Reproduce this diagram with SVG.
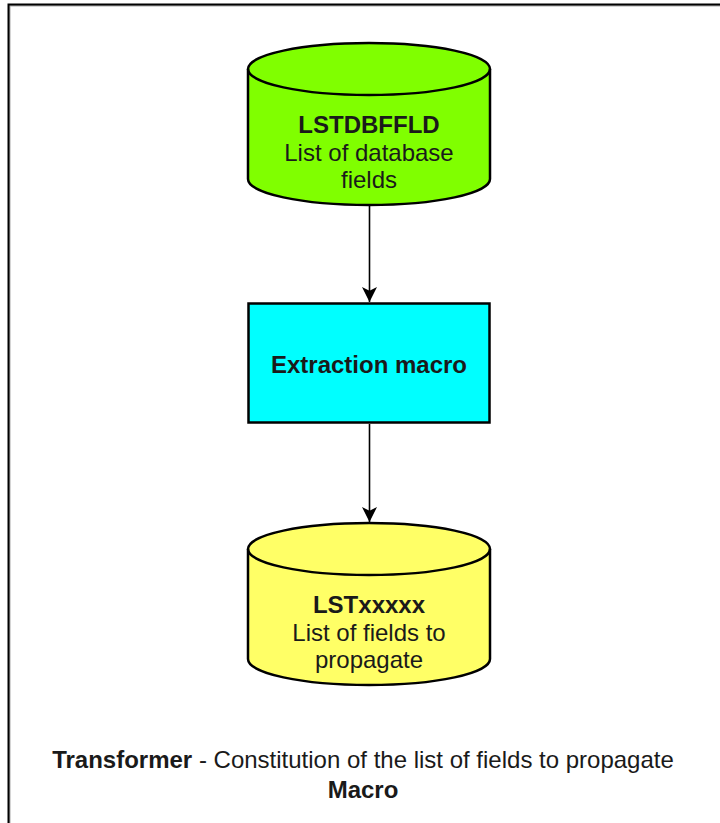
<svg xmlns="http://www.w3.org/2000/svg" width="720" height="823" viewBox="0 0 720 823">
  <defs>
    <marker id="arrow" viewBox="0 0 16 16" refX="16" refY="8" markerWidth="15" markerHeight="15" markerUnits="userSpaceOnUse" orient="auto">
      <path d="M0,0 L16,8 L0,16 L4,8 Z" fill="#000"/>
    </marker>
  </defs>
  <style>
    text { font-family: "Liberation Sans", Arial, sans-serif; font-size: 24px; fill: #1a1a1a; text-anchor: middle; }
    .b { font-weight: bold; }
    .shape { stroke: #000; stroke-width: 2.5; }
    .edge { stroke: #000; stroke-width: 1.6; fill: none; }
  </style>
  <rect width="720" height="823" fill="#fff"/>

  <!-- frame -->
  <path d="M9.5,823 V5.5 H720" fill="none" stroke="#aaa" stroke-width="2"/>
  <path d="M8.5,823 V4.5 H720" fill="none" stroke="#000" stroke-width="2"/>

  <!-- connectors -->
  <g id="connectors">
    <line class="edge" x1="369.5" y1="206" x2="369.5" y2="302" marker-end="url(#arrow)"/>
    <line class="edge" x1="369.5" y1="424" x2="369.5" y2="522" marker-end="url(#arrow)"/>
  </g>

  <!-- source store -->
  <g id="lstdbffld">
    <path class="shape" fill="#80ff00" d="M248,69 A121,26 0 0 1 490,69 V179 A121,26 0 0 1 248,179 Z"/>
    <path class="shape" fill="none" d="M248,69 A121,26 0 0 0 490,69"/>
    <text x="369" y="133" class="b">LSTDBFFLD</text>
    <text x="369" y="161">List of database</text>
    <text x="369" y="188">fields</text>
  </g>

  <!-- process -->
  <g id="extraction-macro">
    <rect class="shape" x="248.5" y="303.5" width="241" height="119" fill="#00ffff" stroke-width="3"/>
    <text x="369" y="373" class="b">Extraction macro</text>
  </g>

  <!-- result store -->
  <g id="lstxxxxx">
    <path class="shape" fill="#ffff66" d="M248,549 A121,26 0 0 1 490,549 V659 A121,26 0 0 1 248,659 Z"/>
    <path class="shape" fill="none" d="M248,549 A121,26 0 0 0 490,549"/>
    <text x="369" y="613" class="b">LSTxxxxx</text>
    <text x="369" y="641">List of fields to</text>
    <text x="369" y="668">propagate</text>
  </g>

  <!-- caption -->
  <g id="caption">
    <text x="363" y="768"><tspan class="b">Transformer</tspan> - Constitution of the list of fields to propagate</text>
    <text x="363" y="798" class="b">Macro</text>
  </g>
</svg>
